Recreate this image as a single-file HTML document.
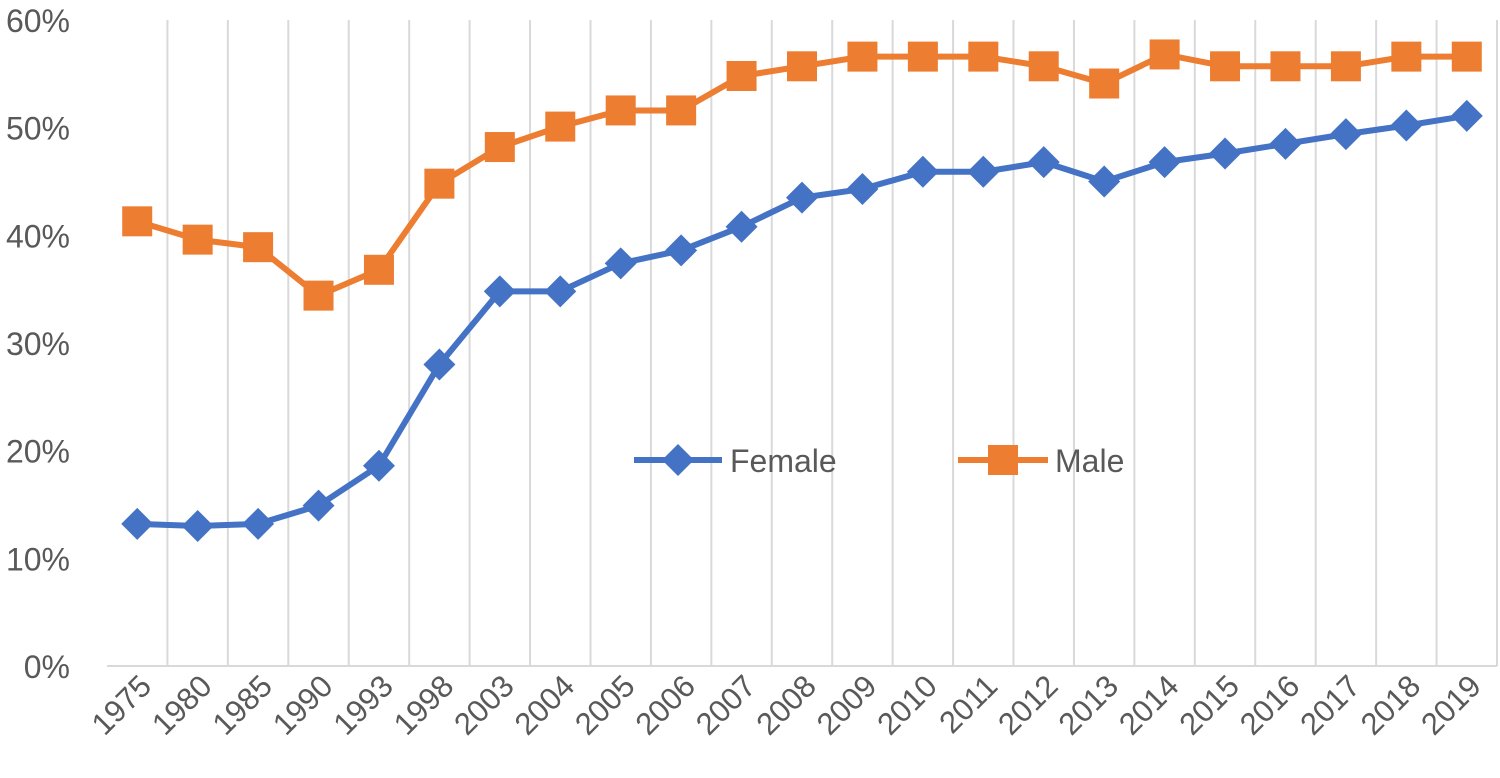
<!DOCTYPE html>
<html><head><meta charset="utf-8"><style>
html,body{margin:0;padding:0;background:#fff;}
svg{display:block;font-family:"Liberation Sans",sans-serif;}
</style></head><body>
<svg id="chart" width="1500" height="778"></svg>
<script>
const categories=["1975","1980","1985","1990","1993","1998","2003","2004","2005","2006","2007","2008","2009","2010","2011","2012","2013","2014","2015","2016","2017","2018","2019"];
const femaleValues=[13.2,13.0,13.2,14.9,18.6,28.0,34.8,34.8,37.4,38.6,40.8,43.5,44.3,45.9,45.9,46.8,45.0,46.8,47.6,48.5,49.4,50.2,51.1];
const maleValues=[41.3,39.6,38.9,34.4,36.8,44.8,48.2,50.1,51.6,51.6,54.8,55.7,56.6,56.6,56.6,55.7,54.1,56.8,55.7,55.7,55.7,56.6,56.6];
const yTicks=[0,10,20,30,40,50,60];
const NS="http://www.w3.org/2000/svg";
const svgEl=document.getElementById('chart');
const plotLeft=107,plotRight=1497,plotTop=20,plotBottom=666;
const step=(plotRight-plotLeft)/categories.length;
function xs(i){return plotLeft+step*(i+0.5);}
function ys(v){return plotBottom-(v/60)*(plotBottom-plotTop);}
function mk(t,a){const e=document.createElementNS(NS,t);for(const k in a)e.setAttribute(k,a[k]);svgEl.appendChild(e);return e;}
for(let i=1;i<=categories.length;i++){
  const g=mk('line',{x1:plotLeft+step*i,x2:plotLeft+step*i,y1:plotTop,y2:plotBottom,stroke:'#d9d9d9','stroke-width':2});
  
  
}
const ax=mk('line',{x1:plotLeft,x2:plotRight,y1:plotBottom,y2:plotBottom,stroke:'#d9d9d9','stroke-width':2});


yTicks.forEach(v=>{
  const t=mk('text',{x:70,y:ys(v)+12,'text-anchor':'end','font-size':32,fill:'#595959'});
  t.textContent=v+'%';
  
  
});
categories.forEach((c,i)=>{
  const t=mk('text',{x:0,y:0,'text-anchor':'end','font-size':31,fill:'#595959',transform:`translate(${xs(i)+16},${plotBottom+22}) rotate(-45)`});
  t.textContent=c;
  
  
});
function diamond(cx,cy,r,col){return mk('polygon',{points:`${cx},${cy-r} ${cx+r},${cy} ${cx},${cy+r} ${cx-r},${cy}`,fill:col});}
function square(cx,cy,r,col){return mk('rect',{x:cx-r,y:cy-r,width:2*r,height:2*r,fill:col});}
function series(vals,col,marker,name){
  const p=mk('polyline',{points:vals.map((v,i)=>xs(i)+','+ys(v)).join(' '),fill:'none',stroke:col,'stroke-width':6,'stroke-linejoin':'round'});
  
  
  vals.forEach((v,i)=>{
    const m=marker(xs(i),ys(v),marker===diamond?16:15,col);
    
    
  });
}
series(femaleValues,'#4472c4',diamond,'female');
series(maleValues,'#ed7d31',square,'male');
const l1=mk('line',{x1:634,x2:722,y1:460,y2:460,stroke:'#4472c4','stroke-width':6});


const d=diamond(678,460,16,'#4472c4');


const t1=mk('text',{x:730,y:472,'font-size':32,fill:'#595959'});t1.textContent='Female';


const l2=mk('line',{x1:958,x2:1048,y1:460,y2:460,stroke:'#ed7d31','stroke-width':6});


const s=square(1003,460,15,'#ed7d31');


const t2=mk('text',{x:1055,y:472,'font-size':32,fill:'#595959'});t2.textContent='Male';


</script>
</body></html>
